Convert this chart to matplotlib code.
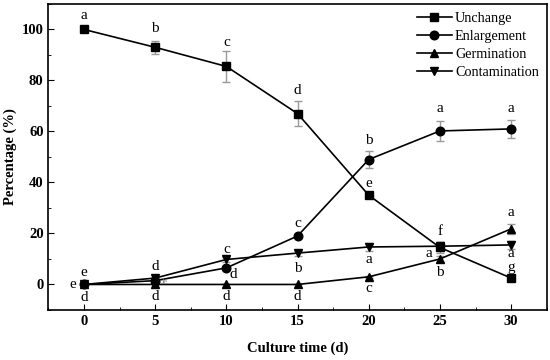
import numpy as np
import matplotlib
matplotlib.use('Agg')
import matplotlib.pyplot as plt
from matplotlib.ticker import MultipleLocator

plt.rcParams['font.family'] = ['Liberation Serif', 'DejaVu Serif']

days = [0, 5, 10, 15, 20, 25, 30]
unchange = [100, 93, 85.5, 67, 35, 14.5, 2.5]
unchange_err = [0, 2.5, 6, 5, 1, 2, 0.5]
enlarge = [0, 1.5, 6.5, 19, 49, 60.2, 61]
enlarge_err = [0, 0.5, 0.5, 0.5, 3.5, 4, 3.5]
germ = [0, 0, 0, 0, 3, 10, 21.8]
germ_err = [0, 0, 0, 0, 0.5, 1, 2]
contam = [0, 2.5, 9.8, 12.3, 14.7, 15, 15.5]
contam_err = [0, 0.5, 1, 1, 1.5, 1.5, 1.5]

# significance letters: (x, y, text)
letters = [
    (0, 105.5, 'a'), (5, 100.5, 'b'), (10, 95, 'c'), (15, 76, 'd'),
    (20, 39.5, 'e'), (25, 20.7, 'f'), (30, 6.5, 'g'),
    (0, 4.8, 'e'), (5, 7, 'd'), (10.45, 3.8, 'd'), (15, 24, 'c'),
    (20, 56.6, 'b'), (25, 69, 'a'), (30, 69, 'a'),
    (0, -5.3, 'd'), (5, -4.8, 'd'), (10, -4.8, 'd'), (15, -4.6, 'd'),
    (20, -1.4, 'c'), (24.2, 12, 'a'), (25, 4.7, 'b'), (30, 28.3, 'a'),
    (-0.8, 0, 'e'), (10, 13.6, 'c'), (15, 6.4, 'b'), (20, 9.9, 'a'),
    (30, 12.0, 'a'),
]

fig = plt.figure(figsize=(5.5, 3.6), dpi=100)
ax = fig.add_axes([0.088, 0.139, 0.906, 0.85])

series = [
    (unchange, unchange_err, 's', 'Unchange'),
    (enlarge, enlarge_err, 'o', 'Enlargement'),
    (germ, germ_err, '^', 'Germination'),
    (contam, contam_err, 'v', 'Contamination'),
]
for y, e, m, lab in series:
    ax.errorbar(days, y, yerr=e, fmt='none', ecolor='#999999', elinewidth=1,
                capsize=3, capthick=1, zorder=2)
    ax.plot(days, y, color='black', marker=m, markersize=6.2, linewidth=1.2,
            label=lab, zorder=3)

for x, y, t in letters:
    ax.text(x, y, t, ha='center', va='center', fontsize=11)
ax.text(5.6, 0.8, 'de', ha='center', va='center', fontsize=6, color='#777777')

ax.set_xlim(-2.5, 32.5)
ax.set_ylim(-10, 110)
ax.set_xticks(days)
ax.set_yticks([0, 20, 40, 60, 80, 100])
ax.xaxis.set_minor_locator(MultipleLocator(2.5))
ax.yaxis.set_minor_locator(MultipleLocator(10))
ax.tick_params(which='both', direction='in', top=False, right=False)
ax.tick_params(which='major', length=4, labelsize=10.5)
ax.tick_params(which='minor', length=2.5)
for lbl in ax.get_xticklabels() + ax.get_yticklabels():
    lbl.set_fontweight('bold')
for sp in ax.spines.values():
    sp.set_linewidth(1.2)

ax.set_xlabel('Culture time (d)', fontsize=10.5, fontweight='bold', labelpad=10)
ax.set_ylabel('Percentage (%)', fontsize=10.5, fontweight='bold', labelpad=3)

ax.legend(loc='upper right', frameon=False, fontsize=10.2, handlelength=2.5,
          handletextpad=0.2, labelspacing=0.35, borderaxespad=0.15)

fig.savefig('out.png', dpi=100)
